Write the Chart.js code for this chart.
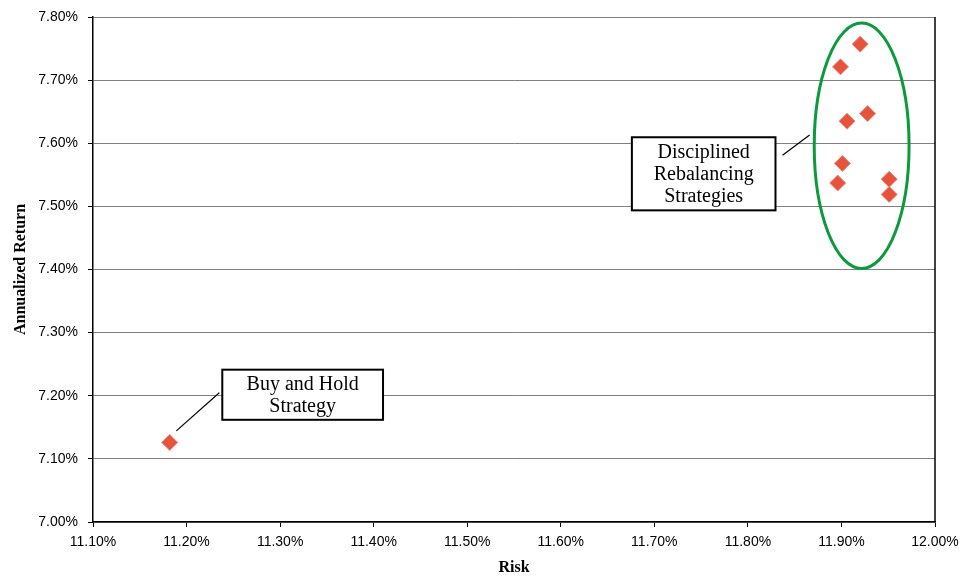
<!DOCTYPE html>
<html>
<head>
<meta charset="utf-8">
<script src="https://cdn.jsdelivr.net/npm/chart.js@4.4.0/dist/chart.umd.min.js"></script>
<style>
  html, body { margin: 0; padding: 0; background: #fff; }
  #wrap { width: 960px; height: 577px; position: relative; }
</style>
</head>
<body>
<div id="wrap"><canvas id="myChart" width="960" height="577"></canvas></div>
<script>
// risk / return of each strategy (percent)
const riskValues   = [11.182, 11.920, 11.899, 11.928, 11.906, 11.901, 11.896, 11.951, 11.951];
const returnValues = [7.126, 7.757, 7.721, 7.647, 7.635, 7.568, 7.537, 7.543, 7.519];
const xTicks = [11.1, 11.2, 11.3, 11.4, 11.5, 11.6, 11.7, 11.8, 11.9, 12.0];
const yTicks = [7.0, 7.1, 7.2, 7.3, 7.4, 7.5, 7.6, 7.7, 7.8];

// callouts, in data units
const callouts = [
  { lines: ["Disciplined", "Rebalancing", "Strategies"], x0: 11.676, x1: 11.8295, y0: 7.6095, y1: 7.4937,
    from: [11.837, 7.581], to: [11.866, 7.613] },
  { lines: ["Buy and Hold", "Strategy"], x0: 11.2382, x1: 11.41, y0: 7.2413, y1: 7.1619,
    from: [11.1891, 7.1444], to: [11.235, 7.2048] }
];
const ring = { cx: 11.9216, cy: 7.596, rx: 0.0507, ry: 0.1944 };

const extras = {
  id: 'extras',
  afterDatasetsDraw(chart) {
    const ctx = chart.ctx;
    const xs = chart.scales.x, ys = chart.scales.y;
    const a = chart.chartArea;
    ctx.save();
    // right frame line
    ctx.strokeStyle = '#000';
    ctx.lineWidth = 1.5;
    ctx.beginPath();
    ctx.moveTo(a.right, a.top);
    ctx.lineTo(a.right, a.bottom);
    ctx.stroke();

    // green ellipse
    ctx.strokeStyle = '#0b9a3c';
    ctx.lineWidth = 3;
    ctx.beginPath();
    const cx = xs.getPixelForValue(ring.cx), cy = ys.getPixelForValue(ring.cy);
    const rx = Math.abs(xs.getPixelForValue(ring.cx + ring.rx) - cx);
    const ry = Math.abs(ys.getPixelForValue(ring.cy + ring.ry) - cy);
    ctx.ellipse(cx, cy, rx, ry, 0, 0, Math.PI * 2);
    ctx.stroke();

    // callout boxes
    ctx.font = '20px "Liberation Serif", "Times New Roman", serif';
    ctx.textAlign = 'center';
    ctx.textBaseline = 'middle';
    callouts.forEach(c => {
      ctx.strokeStyle = '#000';
      ctx.lineWidth = 1.2;
      ctx.beginPath();
      ctx.moveTo(xs.getPixelForValue(c.from[0]), ys.getPixelForValue(c.from[1]));
      ctx.lineTo(xs.getPixelForValue(c.to[0]), ys.getPixelForValue(c.to[1]));
      ctx.stroke();

      const l = xs.getPixelForValue(c.x0), r = xs.getPixelForValue(c.x1);
      const t = ys.getPixelForValue(c.y0), b = ys.getPixelForValue(c.y1);
      ctx.fillStyle = '#fff';
      ctx.fillRect(l, t, r - l, b - t);
      ctx.lineWidth = 2;
      ctx.strokeRect(l, t, r - l, b - t);
      ctx.fillStyle = '#000';
      const lh = 22;
      const mid = (t + b) / 2 + 1;
      c.lines.forEach((s, i) => {
        ctx.fillText(s, (l + r) / 2, mid + (i - (c.lines.length - 1) / 2) * lh);
      });
    });
    ctx.restore();
  }
};

const tickFont = { family: '"Liberation Sans", Arial, sans-serif', size: 14 };
const titleFont = { family: '"Liberation Serif", "Times New Roman", serif', size: 16, weight: 'bold' };

new Chart(document.getElementById('myChart'), {
  type: 'scatter',
  data: {
    datasets: [{
      label: 'Strategies',
      data: riskValues.map((r, i) => ({ x: r, y: returnValues[i] })),
      pointStyle: 'rectRot',
      pointRadius: 8,
      pointHoverRadius: 8,
      backgroundColor: '#e5533d',
      borderColor: '#f08a78',
      borderWidth: 1
    }]
  },
  options: {
    responsive: false,
    animation: false,
    devicePixelRatio: 1,
    layout: { padding: { top: 17, right: 25, left: 0, bottom: 0 } },
    plugins: { legend: { display: false }, tooltip: { enabled: false } },
    scales: {
      x: {
        type: 'linear',
        min: 11.1, max: 12.0,
        afterBuildTicks: s => { s.ticks = xTicks.map(v => ({ value: v })); },
        afterFit: s => { s.height = 55; s.paddingLeft = 0; s.paddingRight = 0; },
        ticks: {
          color: '#000', font: tickFont, padding: 7, maxRotation: 0,
          callback: v => v.toFixed(2) + '%'
        },
        grid: { drawOnChartArea: false, drawTicks: true, tickLength: 5, color: '#000' },
        border: { color: '#000', width: 1.5 },
        title: { display: true, text: 'Risk', color: '#000', font: titleFont, padding: { top: 4, bottom: 0 } }
      },
      y: {
        type: 'linear',
        min: 7.0, max: 7.8,
        afterBuildTicks: s => { s.ticks = yTicks.map(v => ({ value: v })); },
        afterFit: s => { s.width = 93; s.paddingTop = 0; s.paddingBottom = 0; },
        ticks: {
          color: '#000', font: tickFont, padding: 10,
          callback: v => v.toFixed(2) + '%'
        },
        grid: { color: '#808080', lineWidth: 1, tickColor: '#000', tickLength: 5 },
        border: { color: '#000', width: 1.5 },
        title: { display: true, text: 'Annualized Return', color: '#000', font: titleFont, padding: { top: 11, bottom: 0 } }
      }
    }
  },
  plugins: [extras]
});
</script>
</body>
</html>
